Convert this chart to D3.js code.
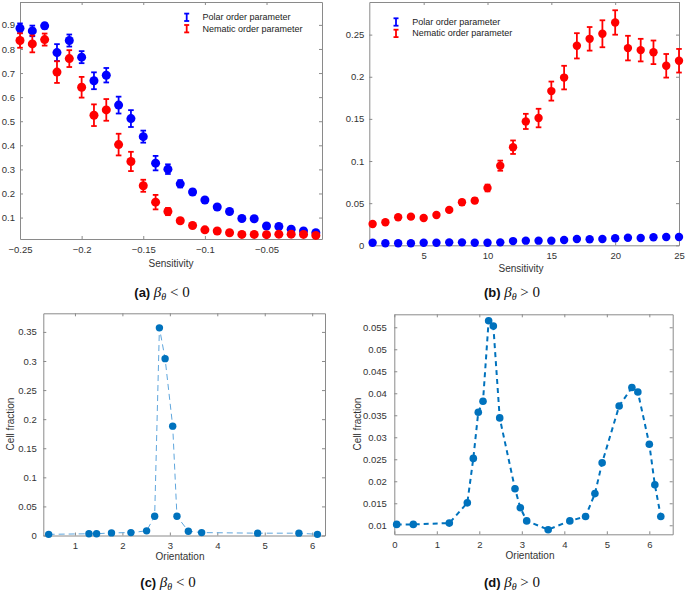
<!DOCTYPE html>
<html><head><meta charset="utf-8">
<script src="https://cdn.jsdelivr.net/npm/d3@7"></script>
<style>
body{margin:0;background:#fff}
svg{display:block}
text{font-family:"Liberation Sans",Arial,Helvetica,sans-serif}
</style>
</head><body>
<svg id="chart" width="685" height="593"></svg>
<script>
// ---------- DATA ----------
const sensA = [-0.25,-0.24,-0.23,-0.22,-0.21,-0.20,-0.19,-0.18,-0.17,-0.16,-0.15,-0.14,-0.13,-0.12,-0.11,-0.10,-0.09,-0.08,-0.07,-0.06,-0.05,-0.04,-0.03,-0.02,-0.01];
const polarA = [0.886,0.875,0.896,0.785,0.835,0.766,0.668,0.691,0.567,0.511,0.436,0.326,0.301,0.240,0.206,0.173,0.144,0.125,0.096,0.095,0.065,0.063,0.052,0.044,0.037];
const polarAErr = [0.02,0.022,0.012,0.035,0.025,0.025,0.035,0.03,0.035,0.035,0.025,0.03,0.02,0.015,0.01,0.008,0.006,0.006,0.005,0.005,0.005,0.005,0.004,0.004,0.004];
const nematicA = [0.835,0.821,0.839,0.704,0.760,0.641,0.525,0.547,0.403,0.333,0.232,0.164,0.125,0.087,0.067,0.049,0.044,0.037,0.030,0.030,0.029,0.031,0.031,0.030,0.026];
const nematicAErr = [0.03,0.035,0.025,0.045,0.035,0.043,0.045,0.045,0.045,0.04,0.025,0.03,0.015,0.008,0.006,0.005,0.005,0.004,0.004,0.004,0.004,0.004,0.004,0.004,0.004];

const sensB = [1,2,3,4,5,6,7,8,9,10,11,12,13,14,15,16,17,18,19,20,21,22,23,24,25];
const polarB = [0.003,0.0025,0.0025,0.0025,0.003,0.003,0.0035,0.0035,0.003,0.003,0.0035,0.005,0.0055,0.0055,0.0055,0.0063,0.0075,0.0071,0.0075,0.0083,0.009,0.0087,0.0095,0.0099,0.0099];
const polarBErr = [0.0005,0.0005,0.0005,0.0005,0.0005,0.0005,0.0005,0.0005,0.0005,0.0005,0.0005,0.0006,0.0006,0.0006,0.0006,0.0006,0.0006,0.0006,0.0006,0.0006,0.0006,0.0006,0.0006,0.0006,0.0006];
const nematicB = [0.0253,0.0273,0.0333,0.034,0.0324,0.036,0.042,0.051,0.053,0.068,0.0945,0.1164,0.147,0.151,0.183,0.199,0.2367,0.245,0.251,0.2644,0.234,0.2316,0.229,0.213,0.219];
const nematicBErr = [0.002,0.002,0.002,0.002,0.002,0.002,0.002,0.003,0.003,0.004,0.006,0.008,0.009,0.011,0.0113,0.014,0.015,0.014,0.016,0.0145,0.0146,0.0134,0.014,0.014,0.014];

const orientC = [0.446,1.295,1.456,1.77,2.18,2.51,2.68,2.78,2.90,3.06,3.15,3.39,3.67,4.85,5.72,6.11];
const fracC = [0.002,0.003,0.003,0.0045,0.005,0.008,0.033,0.357,0.304,0.188,0.033,0.0074,0.005,0.004,0.004,0.002];

const orientD = [0.056,0.447,1.294,1.718,1.859,1.976,2.087,2.22,2.33,2.48,2.84,2.965,3.115,3.62,4.13,4.50,4.72,4.89,5.29,5.59,5.73,6.0,6.13,6.27];
const fracD = [0.0102,0.0102,0.0105,0.0151,0.0252,0.0357,0.0382,0.0565,0.0553,0.0344,0.0183,0.014,0.011,0.009,0.011,0.012,0.0172,0.0242,0.0371,0.0413,0.0403,0.0284,0.0192,0.012];

const ticksAX = [-0.25,-0.2,-0.15,-0.1,-0.05];
const ticksAY = [0.1,0.2,0.3,0.4,0.5,0.6,0.7,0.8,0.9];
const ticksBX = [5,10,15,20,25];
const ticksBY = [0,0.05,0.1,0.15,0.2,0.25];
const ticksCX = [1,2,3,4,5,6];
const ticksCY = [0,0.05,0.1,0.15,0.2,0.25,0.3,0.35];
const ticksDX = [0,1,2,3,4,5,6];
const ticksDY = [0.01,0.015,0.02,0.025,0.03,0.035,0.04,0.045,0.05,0.055];

const legendLabels = ["Polar order parameter","Nematic order parameter"];

// ---------- STYLE ----------
const AXIS = "#8a8a8a", TXT = "#333", BLUE = "#0000ff", RED = "#ff0000", MBLUE = "#0072BD";
const svg = d3.select("#chart");

function panel(o){
  const x = d3.scaleLinear().domain(o.xd).range([o.l, o.r]);
  const y = d3.scaleLinear().domain(o.yd).range([o.b, o.t]);
  const g = svg.append("g");
  const style = sel => {
    sel.selectAll("path.domain").attr("stroke", AXIS).attr("stroke-width",1);
    sel.selectAll(".tick line").attr("stroke", AXIS);
    sel.selectAll(".tick text").attr("fill", TXT).style("font-size","9.5px");
  };
  g.append("g").attr("transform",`translate(0,${o.b})`)
    .call(d3.axisBottom(x).tickValues(o.xt).tickSize(-3).tickSizeOuter(0).tickPadding(7).tickFormat(o.xf || d3.format("")))
    .call(style);
  g.append("g").attr("transform",`translate(0,${o.t})`)
    .call(d3.axisTop(x).tickValues(o.xt).tickSize(-3).tickSizeOuter(0).tickFormat(""))
    .call(style);
  g.append("g").attr("transform",`translate(${o.l},0)`)
    .call(d3.axisLeft(y).tickValues(o.yt).tickSize(-3).tickSizeOuter(0).tickPadding(o.yp).tickFormat(o.yf || d3.format("")))
    .call(style);
  g.append("g").attr("transform",`translate(${o.r},0)`)
    .call(d3.axisRight(y).tickValues(o.yt).tickSize(-3).tickSizeOuter(0).tickFormat(""))
    .call(style);
  g.selectAll(".domain").attr("fill","none");
  // x label
  g.append("text").attr("x",o.xlx).attr("y",o.xly).attr("text-anchor","middle")
    .attr("fill",TXT).style("font-size","10px").text(o.xlabel);
  if (o.ylabel){
    g.append("text").attr("transform",`translate(${o.ylx},${o.yly}) rotate(-90)`)
      .attr("text-anchor","middle").attr("fill",TXT).style("font-size","10px").text(o.ylabel);
  }
  // caption
  const cap = g.append("text").attr("x",o.cx).attr("y",o.cy).attr("text-anchor","middle").attr("fill","#111");
  cap.append("tspan").style("font-weight","bold").style("font-size","13px").text(o.letter + " ");
  cap.append("tspan").style("font-family","'Liberation Serif','DejaVu Serif',serif").style("font-style","italic").style("font-size","15px").text("β");
  cap.append("tspan").style("font-family","'Liberation Serif','DejaVu Serif',serif").style("font-style","italic").style("font-size","10px").attr("dy",2.5).text("θ");
  cap.append("tspan").style("font-family","'Liberation Serif','DejaVu Serif',serif").style("font-size","15px").attr("dy",-2.5).text(" " + o.rel + " 0");
  return {x,y,g};
}

function errSeries(p, xs, ys, es, color, r){
  const gg = p.g.append("g");
  const data = xs.map((d,i)=>({x:d,y:ys[i],e:es[i]}));
  const cw = 2.8;
  data.forEach(d=>{
    const px = p.x(d.x), y1 = p.y(d.y - d.e), y2 = p.y(d.y + d.e);
    gg.append("line").attr("x1",px).attr("x2",px).attr("y1",y1).attr("y2",y2).attr("stroke",color).attr("stroke-width",1.8);
    gg.append("line").attr("x1",px-cw).attr("x2",px+cw).attr("y1",y1).attr("y2",y1).attr("stroke",color).attr("stroke-width",1.8);
    gg.append("line").attr("x1",px-cw).attr("x2",px+cw).attr("y1",y2).attr("y2",y2).attr("stroke",color).attr("stroke-width",1.8);
  });
  gg.selectAll("circle").data(data).join("circle")
    .attr("cx",d=>p.x(d.x)).attr("cy",d=>p.y(d.y)).attr("r",r).attr("fill",color);
}

function legend(p, lx, ly, tx){
  const colors = [BLUE, RED];
  legendLabels.forEach((lab,i)=>{
    const cy = ly + i*11.4;
    const g = p.g.append("g");
    g.append("line").attr("x1",lx).attr("x2",lx).attr("y1",cy-3.7).attr("y2",cy+3.7).attr("stroke",colors[i]).attr("stroke-width",1.8);
    g.append("line").attr("x1",lx-2.5).attr("x2",lx+2.5).attr("y1",cy-3.7).attr("y2",cy-3.7).attr("stroke",colors[i]).attr("stroke-width",1.8);
    g.append("line").attr("x1",lx-2.5).attr("x2",lx+2.5).attr("y1",cy+3.7).attr("y2",cy+3.7).attr("stroke",colors[i]).attr("stroke-width",1.8);
    g.append("text").attr("x",tx).attr("y",cy+3).attr("fill","#222").style("font-size","9px").text(lab);
  });
}

// ---------- PANEL A ----------
const pa = panel({l:20,r:322,t:2,b:239,xd:[-0.25,-0.005],yd:[0.011,0.995],xt:ticksAX,yt:ticksAY,yp:5,
  xlabel:"Sensitivity",xlx:171,xly:267,cx:162,cy:297,letter:"(a)",rel:"<"});
errSeries(pa, sensA, polarA, polarAErr, BLUE, 4.5);
errSeries(pa, sensA, nematicA, nematicAErr, RED, 4.5);
legend(pa, 186.7, 17.3, 202.5);

// ---------- PANEL B ----------
const pb = panel({l:369.3,r:679,t:2,b:245.3,xd:[0.74,25],yd:[0,0.2887],xt:ticksBX,yt:ticksBY,yp:5,
  xlabel:"Sensitivity",xlx:521,xly:272,cx:512,cy:297,letter:"(b)",rel:">"});
errSeries(pb, sensB, polarB, polarBErr, BLUE, 4.2);
errSeries(pb, sensB, nematicB, nematicBErr, RED, 4.2);
legend(pb, 396, 22, 412.3);

// ---------- PANEL C ----------
const pc = panel({l:43.3,r:325,t:313.3,b:535.5,xd:[0.333,6.27],yd:[0,0.382],xt:ticksCX,yt:ticksCY,yp:6.5,
  xf:d3.format("d"),
  xlabel:"Orientation",xlx:180,xly:560,ylabel:"Cell fraction",ylx:14,yly:424,cx:168,cy:587,letter:"(c)",rel:"<"});
const lineC = d3.line().x((d,i)=>pc.x(orientC[i])).y(d=>pc.y(d));
pc.g.append("path").attr("d",lineC(fracC)).attr("fill","none").attr("stroke","#5fa6dd").attr("stroke-width",1).attr("stroke-dasharray","6,4");
pc.g.selectAll("circle.pt").data(fracC).join("circle").attr("class","pt")
  .attr("cx",(d,i)=>pc.x(orientC[i])).attr("cy",d=>pc.y(d)).attr("r",3.7).attr("fill",MBLUE);

// ---------- PANEL D ----------
const pd = panel({l:394.3,r:672.7,t:314.3,b:534.3,xd:[0,6.55],yd:[0.00795,0.05795],xt:ticksDX,yt:ticksDY,yp:7.5,
  xf:d3.format("d"),
  xlabel:"Orientation",xlx:530,xly:559,ylabel:"Cell fraction",ylx:361,yly:424,cx:512,cy:587,letter:"(d)",rel:">"});
const lineD = d3.line().x((d,i)=>pd.x(orientD[i])).y(d=>pd.y(d));
pd.g.append("path").attr("d",lineD(fracD)).attr("fill","none").attr("stroke",MBLUE).attr("stroke-width",2).attr("stroke-dasharray","5,4");
pd.g.selectAll("circle.pt").data(fracD).join("circle").attr("class","pt")
  .attr("cx",(d,i)=>pd.x(orientD[i])).attr("cy",d=>pd.y(d)).attr("r",3.8).attr("fill",MBLUE);
</script>
</body></html>
